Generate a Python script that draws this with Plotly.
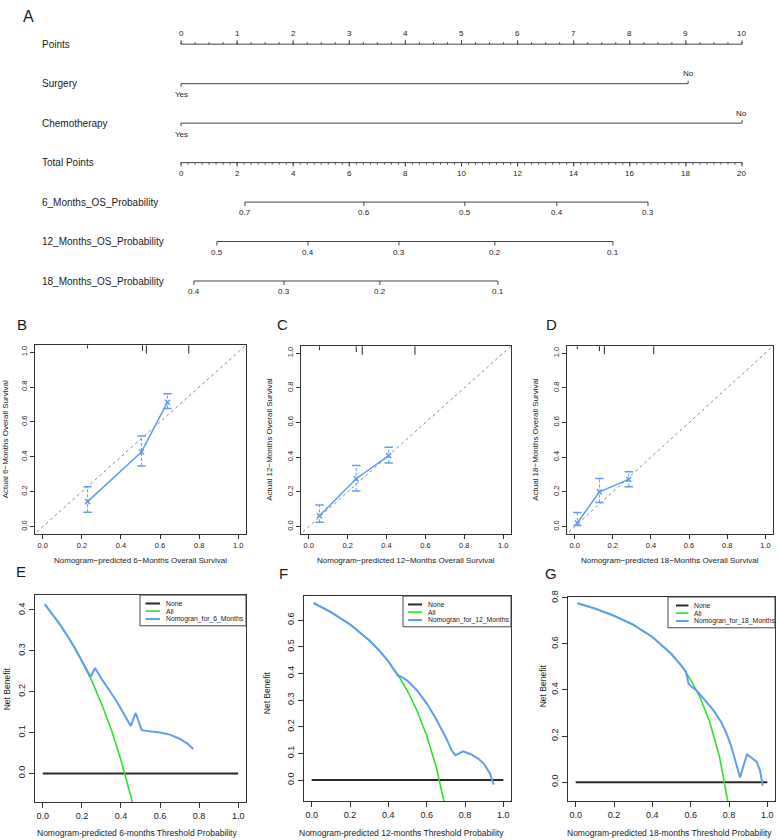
import plotly.graph_objects as go

W, H = 778, 840
FONT = "Liberation Sans, Arial, Helvetica, sans-serif"
BLUE = "#5f9df3"
GREEN = "#2ee02e"
DARK = "#333333"
TXT = "#1a1a1a"

# ---------------- Nomogram data (A) ----------------
row_labels = ["Points", "Surgery", "Chemotherapy", "Total Points",
              "6_Months_OS_Probability", "12_Months_OS_Probability",
              "18_Months_OS_Probability"]
points_major = [0, 1, 2, 3, 4, 5, 6, 7, 8, 9, 10]
points_minor_step = 0.25
surgery_levels = ["Yes", "No"]
surgery_points = [0, 9.04]
chemo_levels = ["Yes", "No"]
chemo_points = [0, 10]
total_major = [0, 2, 4, 6, 8, 10, 12, 14, 16, 18, 20]
total_minor_step = 0.25
os6_labels = ["0.7", "0.6", "0.5", "0.4", "0.3"]
os6_total = [2.28, 6.52, 10.12, 13.40, 16.65]
os12_labels = ["0.5", "0.4", "0.3", "0.2", "0.1"]
os12_total = [1.28, 4.53, 7.77, 11.19, 15.40]
os18_labels = ["0.4", "0.3", "0.2", "0.1"]
os18_total = [0.46, 3.67, 7.09, 11.30]

# ---------------- Calibration data (B, C, D) ----------------
cal6_pred = [0.229, 0.505, 0.638]
cal6_obs = [0.143, 0.428, 0.713]
cal6_lo = [0.082, 0.348, 0.677]
cal6_hi = [0.228, 0.519, 0.762]
rug6_x = [0.229, 0.510, 0.530, 0.747]
rug6_h = [0.019, 0.033, 0.048, 0.048]

cal12_pred = [0.055, 0.244, 0.411]
cal12_obs = [0.063, 0.276, 0.409]
cal12_lo = [0.025, 0.205, 0.367]
cal12_hi = [0.124, 0.352, 0.458]
rug12_x = [0.055, 0.244, 0.275, 0.546]
rug12_h = [0.023, 0.034, 0.050, 0.050]

cal18_pred = [0.014, 0.130, 0.284]
cal18_obs = [0.021, 0.200, 0.272]
cal18_lo = [0.006, 0.139, 0.230]
cal18_hi = [0.082, 0.278, 0.316]
rug18_x = [0.014, 0.130, 0.156, 0.415]
rug18_h = [0.017, 0.029, 0.046, 0.046]

diag = [-0.1, 1.1]

# ---------------- Decision curve data (E, F, G) ----------------
dca_names = ["None", "All"]
none_t = [0.0, 1.0]
none_v = [0.0, 0.0]

all6_t = [0.01, 0.05, 0.10, 0.15, 0.20, 0.25, 0.30, 0.35, 0.40, 0.45, 0.50]
all6_v = [0.414, 0.389, 0.356, 0.318, 0.275, 0.227, 0.171, 0.108, 0.033, -0.055, -0.160]
nomo6_t = [0.01, 0.04, 0.08, 0.12, 0.16, 0.20, 0.245, 0.267, 0.30, 0.344, 0.38, 0.412,
           0.45, 0.475, 0.506, 0.55, 0.60, 0.65, 0.70, 0.74, 0.77]
nomo6_v = [0.414, 0.396, 0.370, 0.341, 0.310, 0.275, 0.236, 0.258, 0.232, 0.201, 0.175,
           0.148, 0.116, 0.148, 0.106, 0.103, 0.100, 0.095, 0.085, 0.073, 0.060]

all12_t = [0.01, 0.10, 0.20, 0.30, 0.35, 0.40, 0.45, 0.50, 0.55, 0.60, 0.65, 0.70]
all12_v = [0.664, 0.630, 0.584, 0.524, 0.488, 0.445, 0.395, 0.334, 0.260, 0.167, 0.049, -0.110]
nomo12_t = [0.01, 0.10, 0.20, 0.30, 0.35, 0.40, 0.45, 0.47, 0.50, 0.55, 0.60, 0.65, 0.70,
            0.73, 0.75, 0.77, 0.79, 0.83, 0.87, 0.90, 0.93, 0.95]
nomo12_v = [0.664, 0.630, 0.584, 0.524, 0.488, 0.445, 0.392, 0.387, 0.372, 0.336, 0.288,
            0.228, 0.160, 0.112, 0.093, 0.100, 0.108, 0.097, 0.080, 0.060, 0.025, -0.017]

all18_t = [0.01, 0.10, 0.20, 0.30, 0.40, 0.50, 0.55, 0.60, 0.65, 0.70, 0.75, 0.80]
all18_v = [0.776, 0.753, 0.722, 0.683, 0.630, 0.556, 0.507, 0.445, 0.366, 0.260, 0.112, -0.110]
nomo18_t = [0.01, 0.10, 0.20, 0.30, 0.40, 0.50, 0.55, 0.575, 0.59, 0.61, 0.63, 0.67, 0.72,
            0.76, 0.79, 0.81, 0.83, 0.848, 0.858, 0.875, 0.894, 0.92, 0.945, 0.962, 0.976]
nomo18_v = [0.776, 0.753, 0.722, 0.683, 0.630, 0.556, 0.507, 0.480, 0.425, 0.410, 0.398,
            0.360, 0.310, 0.260, 0.205, 0.160, 0.100, 0.040, 0.020, 0.070, 0.120, 0.105,
            0.088, 0.050, -0.016]


def dx(a, b):
    return [a / W, b / W]


def dy(top, bottom):
    return [1 - bottom / H, 1 - top / H]


def px(v):
    return v / W


def py(v):
    return 1 - v / H


fig = go.Figure()
ann = []
shapes = []


def txt(x, y, s, size, xref="paper", yref="paper", xanchor="center", yanchor="middle",
        yshift=0, textangle=0, color=TXT):
    ann.append(dict(x=x, y=y, xref=xref, yref=yref, text=s, showarrow=False,
                    xanchor=xanchor, yanchor=yanchor, yshift=yshift, textangle=textangle,
                    font=dict(size=size, color=color, family=FONT)))


# ================= Nomogram =================
TL, TLm = 0.10, 0.05
lx, ly = [], []


def seg(x0, y0, x1, y1):
    lx.extend([x0, x1, None])
    ly.extend([y0, y1, None])


# Points row 0 (ticks up toward labels above)
seg(points_major[0], 0, points_major[-1], 0)
n_minor = int(round((points_major[-1] - points_major[0]) / points_minor_step))
for k in range(n_minor + 1):
    v = points_major[0] + k * points_minor_step
    seg(v, 0, v, -TLm)
for v in points_major:
    seg(v, 0, v, -TL)
    txt(v, 0, str(v), 8, xref="x", yref="y", yshift=10.5)

# Surgery row 1
seg(min(surgery_points), 1, max(surgery_points), 1)
for lvl, p in zip(surgery_levels, surgery_points):
    up = lvl == "No"
    seg(p, 1, p, 1 - 0.075 if up else 1 + 0.075)
    txt(p, 1, lvl, 8, xref="x", yref="y", yshift=10 if up else -11)

# Chemotherapy row 2
seg(min(chemo_points), 2, max(chemo_points), 2)
for lvl, p in zip(chemo_levels, chemo_points):
    up = lvl == "No"
    seg(p, 2, p, 2 - 0.075 if up else 2 + 0.075)
    txt(p, 2, lvl, 8, xref="x", yref="y", yshift=10 if up else -11)

# Total points row 3 (in points-axis units = total / 2)
seg(total_major[0] / 2, 3, total_major[-1] / 2, 3)
n_tminor = int(round((total_major[-1] - total_major[0]) / total_minor_step))
for k in range(n_tminor + 1):
    v = (total_major[0] + k * total_minor_step) / 2
    seg(v, 3, v, 3 + TLm)
for v in total_major:
    seg(v / 2, 3, v / 2, 3 + TL)
    txt(v / 2, 3, str(v), 8, xref="x", yref="y", yshift=-10.5)

# Probability rows
for r, labs, tots in [(4, os6_labels, os6_total), (5, os12_labels, os12_total),
                      (6, os18_labels, os18_total)]:
    seg(min(tots) / 2, r, max(tots) / 2, r)
    for lab, t in zip(labs, tots):
        seg(t / 2, r, t / 2, r + TL)
        txt(t / 2, r, lab, 8, xref="x", yref="y", yshift=-10.5)

for i, lab in enumerate(row_labels):
    txt(px(40), i, lab, 10, yref="y", xanchor="left")

fig.add_trace(go.Scatter(x=lx, y=ly, mode="lines", xaxis="x", yaxis="y",
                         line=dict(color="#444444", width=1), showlegend=False,
                         hoverinfo="skip"))

layout_axes = {}
layout_axes["xaxis"] = dict(domain=dx(170, 760), range=[-0.196, 10.321], visible=False,
                            anchor="y")
layout_axes["yaxis"] = dict(domain=dy(15, 300), range=[6.595, -0.565], visible=False,
                            anchor="x")


def axis_style(domain, rng, dtick, fs, anchor, angle=None):
    d = dict(domain=domain, range=rng, dtick=dtick, tick0=0, tickformat=".1f",
             showline=True, linecolor=DARK, linewidth=1, mirror=True, ticks="outside",
             ticklen=4, tickcolor=DARK, showgrid=False, zeroline=False,
             tickfont=dict(size=fs, color=TXT, family=FONT), anchor=anchor)
    if angle is not None:
        d["tickangle"] = angle
    return d


# ================= Calibration panels =================
cal_panels = [
    (2, (35, 246, 341, 531), cal6_pred, cal6_obs, cal6_lo, cal6_hi, rug6_x, rug6_h, "6"),
    (3, (301, 511, 342, 531), cal12_pred, cal12_obs, cal12_lo, cal12_hi, rug12_x, rug12_h, "12"),
    (4, (567, 773, 342, 531), cal18_pred, cal18_obs, cal18_lo, cal18_hi, rug18_x, rug18_h, "18"),
]
CAL_RANGE = [-0.04, 1.04]
cal_ytitle_x = {2: 5, 3: 270, 4: 536}
for n, (x0, x1, y0, y1), pr, ob, lo, hi, rx, rh, m in cal_panels:
    xa, ya = f"x{n}", f"y{n}"
    layout_axes[f"xaxis{n}"] = axis_style(dx(x0, x1), CAL_RANGE, 0.2, 7.5, ya)
    layout_axes[f"yaxis{n}"] = axis_style(dy(y0, y1), CAL_RANGE, 0.2, 7.5, xa, angle=-90)
    fig.add_trace(go.Scatter(x=diag, y=diag, mode="lines", xaxis=xa, yaxis=ya,
                             line=dict(color="#8a8a8a", width=1, dash="dot"),
                             showlegend=False, hoverinfo="skip"))
    rxs, rys = [], []
    for xv, hv in zip(rx, rh):
        rxs.extend([xv, xv, None])
        rys.extend([CAL_RANGE[1], CAL_RANGE[1] - hv, None])
    fig.add_trace(go.Scatter(x=rxs, y=rys, mode="lines", xaxis=xa, yaxis=ya,
                             line=dict(color="#222222", width=1), showlegend=False,
                             hoverinfo="skip"))
    exs, eys = [], []
    for xv, l, h in zip(pr, lo, hi):
        exs.extend([xv, xv, None])
        eys.extend([l, h, None])
    fig.add_trace(go.Scatter(x=exs, y=eys, mode="lines", xaxis=xa, yaxis=ya,
                             line=dict(color=BLUE, width=1, dash="3px,2px"),
                             showlegend=False, hoverinfo="skip"))
    fig.add_trace(go.Scatter(x=pr + pr, y=lo + hi, mode="markers", xaxis=xa, yaxis=ya,
                             marker=dict(symbol="line-ew-open", size=6, color=BLUE,
                                         line=dict(color=BLUE, width=1.5)),
                             showlegend=False, hoverinfo="skip"))
    fig.add_trace(go.Scatter(x=pr, y=ob, mode="lines+markers", xaxis=xa, yaxis=ya,
                             line=dict(color=BLUE, width=1.5),
                             marker=dict(symbol="x-thin-open", size=5, color=BLUE,
                                         line=dict(color=BLUE, width=1.5)),
                             showlegend=False))
    cx = (x0 + x1) / 2
    cy = (y0 + y1) / 2
    txt(px(cx), py(558),
        f"Nomogram\u2212predicted {m}\u2212Months Overall Survival", 8)
    txt(px(cal_ytitle_x[n]), py(cy), f"Actual {m}\u2212Months Overall Survival", 8,
        textangle=-90)

# ================= DCA panels =================
dca_panels = [
    (5, (35, 246, 593, 802), [-0.0706, 0.4365], 0.1, all6_t, all6_v, nomo6_t, nomo6_v, "6",
     (7, 688), 137, (140, 145.5, 160, 164)),
    (6, (304, 511, 594, 801), [-0.0795, 0.69], 0.1, all12_t, all12_v, nomo12_t, nomo12_v,
     "12", (267, 692), 401, (403, 408, 422, 426.5)),
    (7, (568, 775, 595, 801), [-0.083, 0.803], 0.2, all18_t, all18_v, nomo18_t, nomo18_v,
     "18", (543, 685), 669, (668, 676, 688.5, 692)),
]
LEG_ROWS = [601.5, 609.2, 617.2]
for n, (x0, x1, y0, y1), yr, ydt, at, av, nt, nv, m, (ytx, yty), xtx, lg in dca_panels:
    xa, ya = f"x{n}", f"y{n}"
    layout_axes[f"xaxis{n}"] = axis_style(dx(x0, x1), CAL_RANGE, 0.2, 9, ya)
    layout_axes[f"xaxis{n}"]["ticklen"] = 5
    layout_axes[f"yaxis{n}"] = axis_style(dy(y0, y1), yr, ydt, 9, xa, angle=-90)
    layout_axes[f"yaxis{n}"]["ticklen"] = 5
    names = dca_names + [f"Nomogran_for_{m}_Months"]
    colors = ["#2a2a2a", GREEN, BLUE]
    widths = [2, 1.6, 2]
    series = [(none_t, none_v), (at, av), (nt, nv)]
    for (sx, sy), nm, c, w in zip(series, names, colors, widths):
        fig.add_trace(go.Scatter(x=sx, y=sy, mode="lines", xaxis=xa, yaxis=ya,
                                 line=dict(color=c, width=w), name=nm, showlegend=False))
    # legend box (drawn like R's legend())
    bx0, s0, s1, tx = lg
    shapes.append(dict(type="rect", xref="paper", yref="paper", x0=px(bx0), x1=px(x1),
                       y0=py(y0 + 31), y1=py(y0), line=dict(color="#444444", width=1),
                       fillcolor="white", layer="above"))
    for rowy, nm, c, w in zip(LEG_ROWS, names, colors, widths):
        shapes.append(dict(type="line", xref="paper", yref="paper", x0=px(s0), x1=px(s1),
                           y0=py(rowy + (y0 - 593)), y1=py(rowy + (y0 - 593)),
                           line=dict(color=c, width=w), layer="above"))
        txt(px(tx), py(rowy + (y0 - 593)), nm, 6.8, xanchor="left")
    txt(px(xtx), py(833), f"Nomogram-predicted {m}-months Threshold Probability", 8.5)
    txt(px(ytx), py(yty), "Net Benefit", 8.5, textangle=-90)

# ================= Panel letters =================
for letter, lx_, ly_, sz in [("A", 28, 10, 16), ("B", 22, 320, 15), ("C", 282, 320, 15),
                             ("D", 551, 320, 15), ("E", 21, 569, 15), ("F", 283, 571, 15),
                             ("G", 551, 571, 15)]:
    txt(px(lx_), py(ly_), letter, sz)

fig.update_layout(
    width=W, height=H, autosize=False,
    margin=dict(l=0, r=0, t=0, b=0),
    paper_bgcolor="white", plot_bgcolor="white",
    font=dict(family=FONT, color=TXT),
    annotations=ann,
    shapes=shapes,
    showlegend=False,
    **layout_axes,
)

fig.write_html(
    "out.html",
    config={"displayModeBar": False},
    post_script=(
        "document.documentElement.style.margin='0px';"
        "document.body.style.margin='0px';"
        "document.body.style.padding='0px';"
        "document.body.style.overflow='hidden';"
        "var d=document.getElementById('{plot_id}');"
        "d.style.position='absolute';d.style.left='0px';d.style.top='0px';"
        "window.scrollTo(0,0);"
    ),
)
